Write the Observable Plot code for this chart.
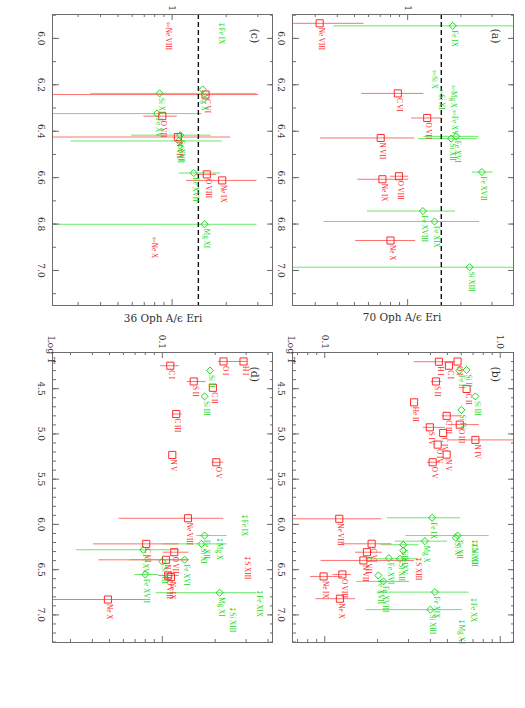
<!DOCTYPE html>
<html><head><meta charset="utf-8">
<script src="https://cdn.jsdelivr.net/npm/d3@7"></script>
<script src="https://cdn.jsdelivr.net/npm/@observablehq/plot@0.6"></script>
<style>
html,body{margin:0;padding:0;background:#fff;width:525px;height:708px;overflow:hidden;}
#page{position:absolute;left:0;top:0;width:708px;height:525px;transform-origin:0 0;transform:translate(525px,0) rotate(90deg);background:#fff;}
.abs{position:absolute;}
.lbl{position:absolute;font-family:'DejaVu Serif',serif;color:#333;white-space:nowrap;transform:translate(-50%,-50%);}
</style></head><body><div id="page"></div>
<script>
// ---- data: [ion, logT, ratio, errLow, errHigh, kind]  kind: h=high-FIP, l=low-FIP, A=lower-limit arrow, U=upper limit
const panelA = [
  ["Ne VIII", 5.935, 0.318, 0.1, 0.559, "h"],
  ["Fe IX", 5.946, 1.80, 0.378, 6, "l"],
  ["Si X", 6.151, 1.39, null, null, "lA"],
  ["Mg X", 6.216, 1.77, null, null, "lA"],
  ["Si XI", 6.230, 1.52, null, null, "lA"],
  ["C VI", 6.237, 0.88, 0.543, 1.22, "h"],
  ["Fe XV", 6.324, 1.79, null, null, "lA"],
  ["O VII", 6.343, 1.29, 1.04, 1.55, "h"],
  ["Fe XVI", 6.422, 1.88, 1.22, 2.50, "l"],
  ["Si XII", 6.432, 1.76, 1.14, 2.46, "l"],
  ["N VII", 6.429, 0.704, 0.318, 1.085, "h"],
  ["Fe XVII", 6.576, 2.63, 2.29, 3.01, "l"],
  ["O VIII", 6.594, 0.893, 0.79, 1.0, "h"],
  ["Ne IX", 6.607, 0.72, 0.517, 1.0, "h"],
  ["Fe XVIII", 6.744, 1.22, 0.585, 1.84, "l"],
  ["Fe XIX", 6.789, 1.42, 0.332, 2.52, "l"],
  ["Ne X", 6.871, 0.80, 0.502, 1.095, "h"],
  ["Si XIII", 6.986, 2.24, 0.1, 10, "l"]
];
const panelB = [
  ["H I", 4.202, 0.447, 0.319, 0.55, "h"],
  ["O I", 4.200, 0.571, null, null, "h"],
  ["C I", 4.246, 0.51, null, null, "h"],
  ["Fe II", 4.300, 0.585, null, null, "l"],
  ["Si II", 4.293, 0.643, null, null, "l"],
  ["S II", 4.420, 0.43, 0.40, 0.46, "h"],
  ["C II", 4.503, 0.643, null, null, "h"],
  ["Si III", 4.585, 0.722, null, null, "l"],
  ["He II", 4.651, 0.323, null, null, "h"],
  ["Si IV", 4.735, 0.60, null, null, "l"],
  ["C III", 4.800, 0.495, 0.46, 0.60, "h"],
  ["O III", 4.897, 0.588, 0.50, 0.75, "h"],
  ["S IV", 4.927, 0.397, 0.36, 0.48, "h"],
  ["C IV", 4.989, 0.473, null, null, "h"],
  ["N IV", 5.066, 0.722, 0.50, 1.3, "h"],
  ["O IV", 5.118, 0.44, null, null, "h"],
  ["N V", 5.228, 0.495, null, null, "h"],
  ["O V", 5.313, 0.412, 0.38, 0.45, "h"],
  ["Ne VIII", 5.938, 0.121, 0.03, 0.209, "h"],
  ["Fe IX", 5.927, 0.409, 0.225, 0.588, "l"],
  ["Fe XII", 6.123, 0.571, 0.286, 0.853, "l"],
  ["Si X", 6.148, 0.558, null, null, "l"],
  ["Ca XII", 6.196, 0.70, null, null, "lU"],
  ["Ni XII", 6.233, 0.70, null, null, "lU"],
  ["Mg X", 6.185, 0.372, 0.25, 0.495, "l"],
  ["C VI", 6.214, 0.185, 0.123, 0.238, "h"],
  ["Si XI", 6.225, 0.28, 0.207, 0.34, "l"],
  ["Fe XV", 6.290, 0.28, null, null, "l"],
  ["O VII", 6.307, 0.174, 0.148, 0.21, "h"],
  ["Fe XVI", 6.373, 0.232, null, null, "l"],
  ["Si XII", 6.380, 0.268, 0.17, 0.33, "l"],
  ["S XIII", 6.391, 0.334, null, null, "hU"],
  ["N VII", 6.398, 0.166, 0.094, 0.32, "h"],
  ["O VIII", 6.553, 0.126, 0.11, 0.14, "h"],
  ["Fe XVII", 6.564, 0.202, null, null, "l"],
  ["Ne IX", 6.575, 0.0985, 0.082, 0.125, "h"],
  ["Fe XVIII", 6.630, 0.216, 0.15, 0.30, "l"],
  ["Fe XIX", 6.748, 0.424, 0.196, 0.656, "l"],
  ["Ne X", 6.821, 0.122, 0.088, 0.148, "h"],
  ["Fe XX", 6.840, 0.686, null, null, "lU"],
  ["Si XIII", 6.942, 0.40, 0.17, 0.60, "l"],
  ["Mg XI", 7.080, 0.59, null, null, "lU"]
];
const panelC = [
  ["Ne VIII", 5.943, 0.93, null, null, "hA"],
  ["Fe IX", 5.943, 1.85, null, null, "lU"],
  ["Mg X", 6.220, 1.48, null, null, "l"],
  ["Si XI", 6.237, 0.852, 0.348, 2.93, "l"],
  ["C VI", 6.242, 1.535, 0.05, 3.0, "h"],
  ["Fe XV", 6.324, 0.823, 0.05, 1.45, "l"],
  ["O VII", 6.335, 0.882, 0.688, 1.055, "h"],
  ["Fe XVI", 6.417, 1.11, 0.588, 1.63, "l"],
  ["N VII", 6.425, 1.077, 0.05, 2.09, "h"],
  ["Si XII", 6.442, 1.09, 0.27, 1.88, "l"],
  ["Fe XVII", 6.580, 1.32, 1.08, 1.84, "l"],
  ["O VIII", 6.586, 1.56, 1.35, 1.75, "h"],
  ["Ne IX", 6.612, 1.90, 1.19, 2.93, "h"],
  ["Mg XI", 6.801, 1.515, 0.05, 2.93, "l"],
  ["Ne X", 6.870, 0.782, null, null, "hA"]
];
const panelD = [
  ["H I", 4.199, 0.29, null, null, "h"],
  ["O I", 4.199, 0.223, 0.206, 0.30, "h"],
  ["C I", 4.246, 0.111, 0.0965, 0.123, "h"],
  ["Si II", 4.300, 0.187, null, null, "l"],
  ["S II", 4.420, 0.151, 0.137, 0.175, "h"],
  ["C II", 4.490, 0.194, null, null, "h"],
  ["Si III", 4.585, 0.174, null, null, "l"],
  ["C III", 4.780, 0.12, 0.113, 0.128, "h"],
  ["N V", 5.232, 0.114, null, null, "h"],
  ["O V", 5.313, 0.203, 0.19, 0.22, "h"],
  ["Fe IX", 5.920, 0.287, null, null, "lU"],
  ["Ne VIII", 5.932, 0.140, 0.056, 0.221, "h"],
  ["Fe XII", 6.123, 0.174, 0.155, 0.231, "l"],
  ["Mg X", 6.178, 0.207, null, null, "lU"],
  ["Si XI", 6.215, 0.167, 0.10, 0.231, "l"],
  ["C VI", 6.215, 0.081, 0.040, 0.123, "h"],
  ["Fe XV", 6.280, 0.078, 0.032, 0.123, "l"],
  ["O VII", 6.307, 0.117, 0.1, 0.14, "h"],
  ["S XIII", 6.380, 0.30, null, null, "hU"],
  ["N VII", 6.391, 0.105, 0.043, 0.14, "h"],
  ["Fe XVI", 6.390, 0.134, 0.065, 0.14, "l"],
  ["Si XII", 6.410, 0.10, null, null, "l"],
  ["Fe XVII", 6.553, 0.080, 0.069, 0.094, "l"],
  ["O VIII", 6.564, 0.108, 0.094, 0.123, "h"],
  ["Ne IX", 6.583, 0.112, null, null, "h"],
  ["Mg XI", 6.755, 0.212, 0.091, 0.34, "l"],
  ["Fe XIX", 6.755, 0.35, null, null, "lU"],
  ["Ne X", 6.830, 0.049, 0.01, 0.078, "h"],
  ["Si XIII", 6.943, 0.247, null, null, "lU"]
];
// ---- ticks
const hotMajor = [6.0, 6.2, 6.4, 6.6, 6.8, 7.0];
const hotMinor = [5.9, 6.0, 6.1, 6.2, 6.3, 6.4, 6.5, 6.6, 6.7, 6.8, 6.9, 7.0, 7.1];
const wideMajor = [4.5, 5.0, 5.5, 6.0, 6.5, 7.0];
const wideMinor = [4.2, 4.3, 4.4, 4.5, 4.6, 4.7, 4.8, 4.9, 5.0, 5.1, 5.2, 5.3, 5.4, 5.5, 5.6, 5.7, 5.8, 5.9, 6.0, 6.1, 6.2, 6.3, 6.4, 6.5, 6.6, 6.7, 6.8, 6.9, 7.0, 7.1, 7.2, 7.3];
const ratioMajorAC = [1], ratioLabelsAC = ["1"];
const ratioMinorAC = [0.3, 0.4, 0.5, 0.6, 0.7, 0.8, 0.9, 2, 3];
const ratioMajorB = [0.1, 1], ratioLabelsB = ["0.1", "1.0"];
const ratioMinorB = [0.07, 0.08, 0.09, 0.2, 0.3, 0.4, 0.5, 0.6, 0.7, 0.8, 0.9];
const ratioMajorD = [0.1], ratioLabelsD = ["0.1"];
const ratioMinorD = [0.03, 0.04, 0.05, 0.06, 0.07, 0.08, 0.09, 0.2, 0.3, 0.4];
const meanA = 1.55, meanC = 1.40;

const RED = "#ff2a2a", GREEN = "#18d818", RED_E = "#ff7070", GREEN_E = "#66ea66", AXC = "#6c6c6c";
const LFONT = "'Liberation Serif','DejaVu Sans',serif";
const page = document.getElementById("page");

function makePanel(s) {
  const mL = 34, mR = 12, mT = 12, mB = 34;
  const {fw, fh, yDom} = s;
  const rows = s.data.map(([ion, t, r, lo, hi, kind]) => ({ion, t, r, lo, hi, kind}));
  const cy = v => Math.min(Math.max(v, yDom[0]), yDom[1]);
  const err = rows.filter(d => d.lo != null);
  const grp = k => rows.filter(d => d.kind === k);
  const lab = (k, fill, glyph) => Plot.text(grp(k), {x: "t", y: "r", text: d => glyph ? glyph + d.ion : d.ion,
    dx: glyph ? -3.5 : 4.5, dy: -1.5, textAnchor: "start", fill, fontSize: 7.2, fontFamily: LFONT});
  const marks = [
    Plot.ruleX(err.filter(d => d.kind[0] === "l"), {x: "t", y1: d => cy(d.lo), y2: d => cy(d.hi), stroke: GREEN_E, strokeWidth: 1}),
    Plot.ruleX(err.filter(d => d.kind[0] === "h"), {x: "t", y1: d => cy(d.lo), y2: d => cy(d.hi), stroke: RED_E, strokeWidth: 1}),
    s.dash ? Plot.ruleY([s.dash], {stroke: "#111", strokeWidth: 1.4, strokeDasharray: "5,3"}) : null,
    Plot.dot(grp("h"), {x: "t", y: "r", symbol: "square", r: 4, stroke: RED, fill: "none", strokeWidth: 1}),
    Plot.dot(grp("l"), {x: "t", y: "r", symbol: "diamond2", r: 3.2, stroke: GREEN, fill: "none", strokeWidth: 1}),
    lab("h", RED), lab("l", GREEN),
    lab("hA", RED, "⇦"), lab("lA", GREEN, "⇦"),
    lab("hU", RED, "↧"), lab("lU", GREEN, "↧"),
    Plot.frame({stroke: AXC, strokeWidth: 1}),
    Plot.tickX(s.xMin, {x: d => d, stroke: AXC, insetTop: fh - 3}),
    Plot.tickX(s.xMin, {x: d => d, stroke: AXC, insetBottom: fh - 3}),
    Plot.tickX(s.xMaj, {x: d => d, stroke: AXC, insetTop: fh - 6}),
    Plot.tickX(s.xMaj, {x: d => d, stroke: AXC, insetBottom: fh - 6}),
    Plot.tickY(s.yMin, {y: d => d, stroke: AXC, insetRight: fw - 3}),
    Plot.tickY(s.yMin, {y: d => d, stroke: AXC, insetLeft: fw - 3}),
    Plot.tickY(s.yMaj, {y: d => d, stroke: AXC, insetRight: fw - 6}),
    Plot.tickY(s.yMaj, {y: d => d, stroke: AXC, insetLeft: fw - 6}),
    Plot.axisX({ticks: s.xMaj, tickFormat: d => d.toFixed(1), tickSize: 0, tickPadding: 8, anchor: "bottom", label: null, fill: "#333"}),
    Plot.axisY({ticks: s.yMaj, tickFormat: d => s.yLab[s.yMaj.indexOf(d)], tickSize: 0, tickPadding: 3.5, anchor: "left", label: null, fill: "#333"}),
    Plot.text([s.letter], {frameAnchor: "top-left", dx: 14, dy: 14, text: d => d, fontSize: 11, fill: "#333", fontFamily: "'DejaVu Serif',serif"})
  ].filter(Boolean);
  const svg = Plot.plot({
    width: fw + mL + mR, height: fh + mT + mB,
    marginLeft: mL, marginRight: mR, marginTop: mT, marginBottom: mB,
    x: {domain: s.xDom},
    y: {type: "log", domain: yDom},
    style: {background: "transparent", fontFamily: "'DejaVu Serif',serif", fontSize: "9px", overflow: "visible", maxWidth: "none"},
    marks
  });
  svg.classList.add("abs");
  svg.style.left = (s.fx - mL) + "px";
  svg.style.top = (s.fy - mT) + "px";
  page.appendChild(svg);
}

makePanel({data: panelA, letter: "(a)", fx: 14, fy: 11, fw: 291, fh: 221, xDom: [5.897, 7.151], yDom: [0.2232, 3.97],
  xMaj: hotMajor, xMin: hotMinor, yMaj: ratioMajorAC, yLab: ratioLabelsAC, yMin: ratioMinorAC, dash: meanA});
makePanel({data: panelB, letter: "(b)", fx: 352, fy: 11, fw: 290, fh: 221, xDom: [4.1, 7.305], yDom: [0.0655, 1.19],
  xMaj: wideMajor, xMin: wideMinor, yMaj: ratioMajorB, yLab: ratioLabelsB, yMin: ratioMinorB});
makePanel({data: panelC, letter: "(c)", fx: 14, fy: 252, fw: 291, fh: 220, xDom: [5.897, 7.151], yDom: [0.216, 3.62],
  xMaj: hotMajor, xMin: hotMinor, yMaj: ratioMajorAC, yLab: ratioLabelsAC, yMin: ratioMinorAC, dash: meanC});
makePanel({data: panelD, letter: "(d)", fx: 352, fy: 252, fw: 290, fh: 220, xDom: [4.1, 7.305], yDom: [0.0237, 0.424],
  xMaj: wideMajor, xMin: wideMinor, yMaj: ratioMajorD, yLab: ratioLabelsD, yMin: ratioMinorD});

function addLabel(text, x, y, size, rot) {
  const d = document.createElement("div");
  d.className = "lbl";
  d.textContent = text;
  d.style.left = x + "px"; d.style.top = y + "px";
  d.style.fontSize = size + "px";
  if (rot) d.style.transform = "translate(-50%,-50%) rotate(" + rot + "deg)";
  page.appendChild(d);
}
addLabel("70 Oph A/ϵ Eri", 317, 123, 10.5, -90);
addLabel("36 Oph A/ϵ Eri", 318, 362, 10.5, -90);
addLabel("Log T", 350, 234, 9.5);
addLabel("Log T", 350, 474, 9.5);
</script></body></html>
